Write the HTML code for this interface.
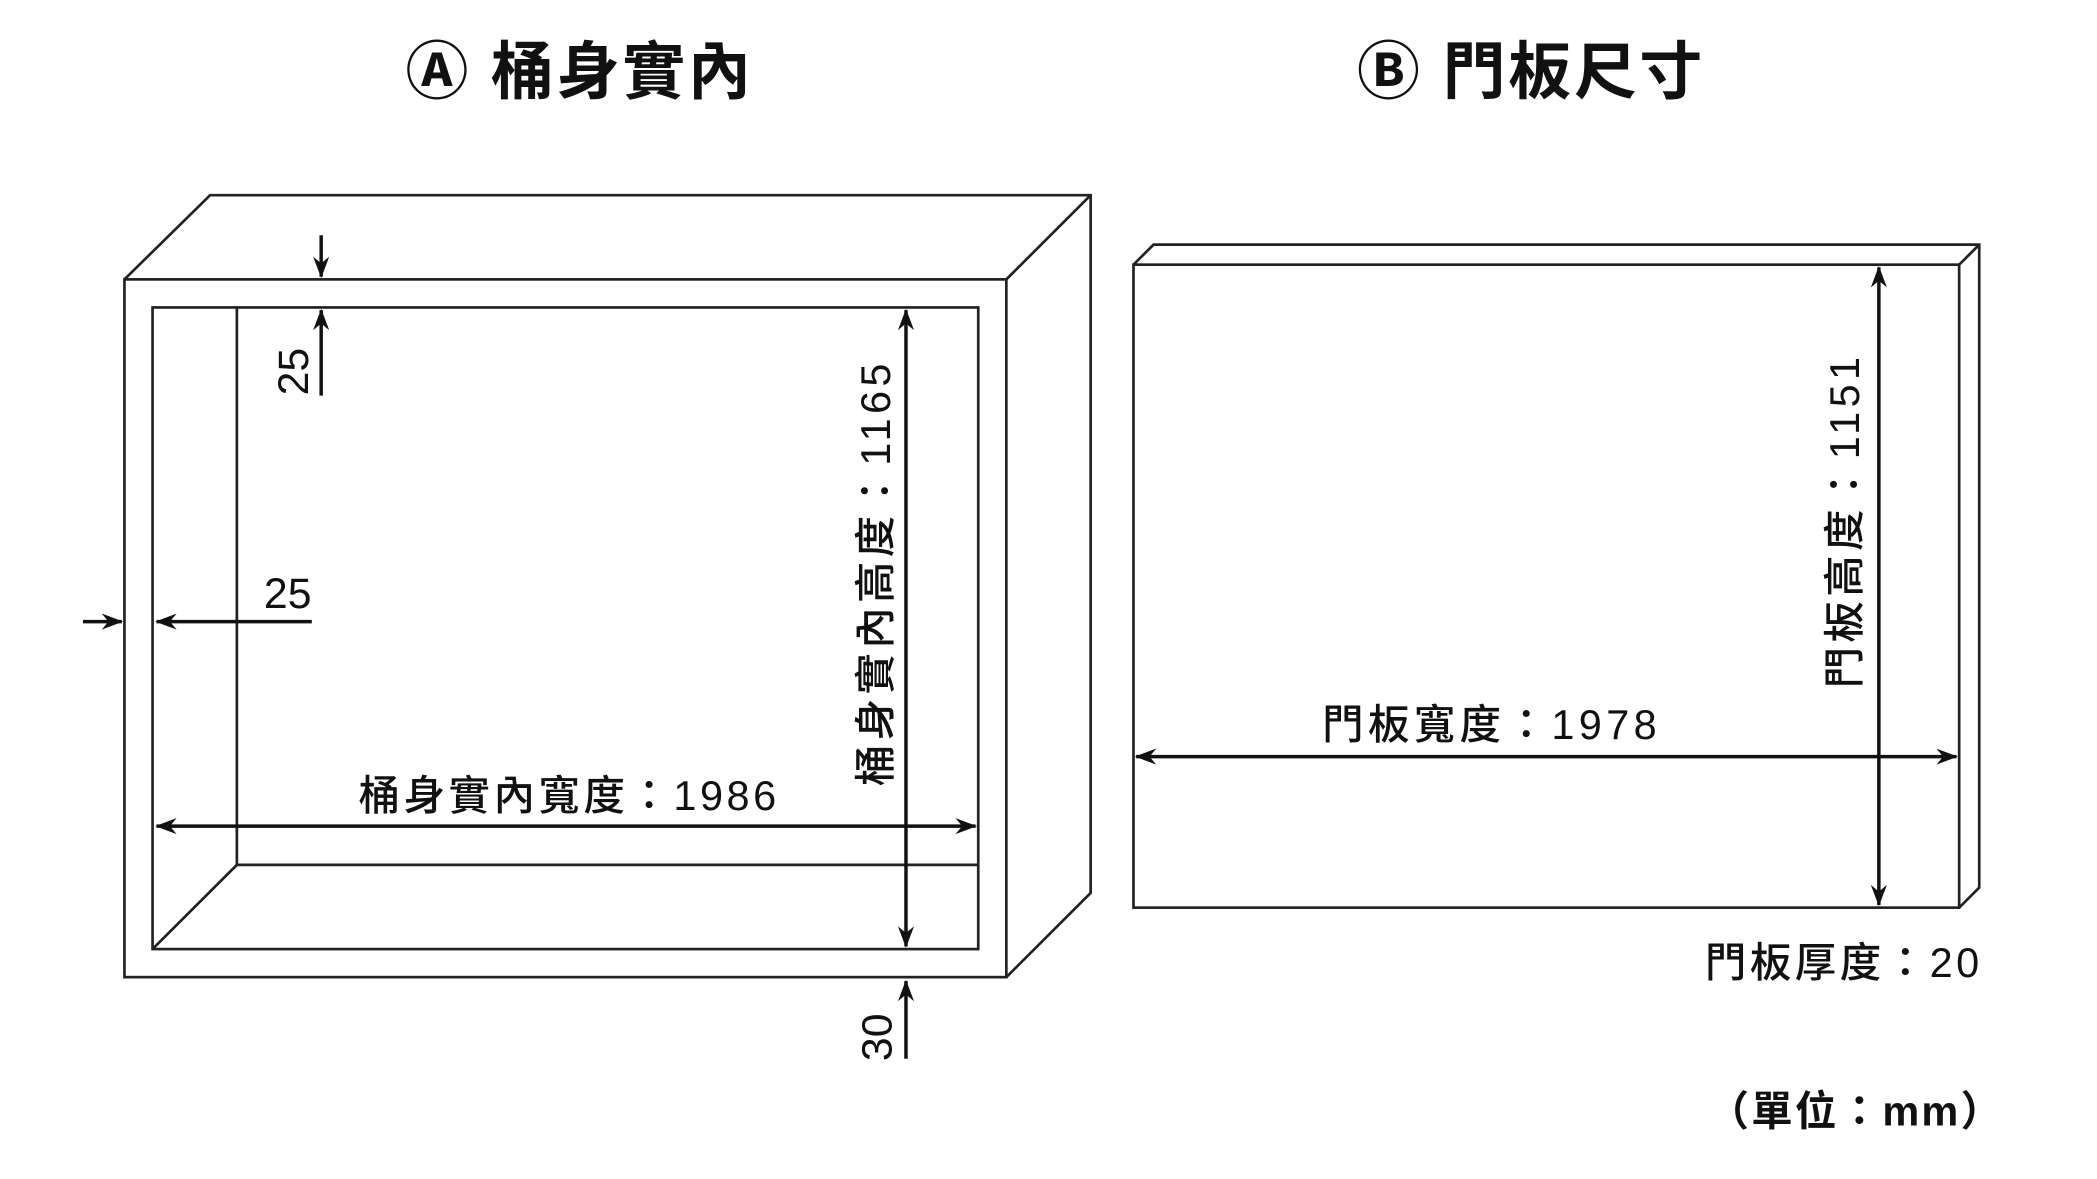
<!DOCTYPE html>
<html><head><meta charset="utf-8"><style>
html,body{margin:0;padding:0;background:#fff;}
svg{display:block;}
text{font-family:"Liberation Sans","Noto Sans CJK TC",sans-serif;fill:#111;}
</style></head><body>
<svg width="2097" height="1179" viewBox="0 0 1567 882" preserveAspectRatio="none" xmlns="http://www.w3.org/2000/svg">
<defs>
<marker id="a" viewBox="0 0 16 12" refX="15" refY="6" markerWidth="16" markerHeight="12" markerUnits="userSpaceOnUse" orient="auto-start-reverse">
<path d="M0,0 L16,6 L0,12 L5,6 Z" fill="#111"/></marker>
</defs>
<g stroke="#222" stroke-width="2" fill="none">
<rect x="93" y="209" width="659" height="522"/>
<polyline points="93,209 157,146 815,146 815,668 752,731"/>
<line x1="752" y1="209" x2="815" y2="146"/>
<rect x="114" y="230" width="617" height="480"/>
<polyline points="177,230 177,647 731,647"/>
<line x1="114" y1="710" x2="177" y2="647"/>
<rect x="847" y="198" width="617" height="481"/>
<polyline points="847,198 862,183 1479,183 1479,664 1464,679"/>
<line x1="1464" y1="198" x2="1479" y2="183"/>
</g>
<g stroke="#111" stroke-width="2.6" fill="none">
<line x1="240" y1="176" x2="240" y2="207" marker-end="url(#a)"/>
<line x1="240" y1="296" x2="240" y2="232" marker-end="url(#a)"/>
<line x1="62" y1="465" x2="91" y2="465" marker-end="url(#a)"/>
<line x1="233" y1="465" x2="117" y2="465" marker-end="url(#a)"/>
<line x1="117" y1="618" x2="729" y2="618" marker-start="url(#a)" marker-end="url(#a)"/>
<line x1="677" y1="232" x2="677" y2="708" marker-start="url(#a)" marker-end="url(#a)"/>
<line x1="677" y1="792" x2="677" y2="734" marker-end="url(#a)"/>
<line x1="1404" y1="200" x2="1404" y2="677" marker-start="url(#a)" marker-end="url(#a)"/>
<line x1="849" y1="566" x2="1462" y2="566" marker-start="url(#a)" marker-end="url(#a)"/>
</g>
<text x="432" y="70" font-size="47" font-weight="bold" text-anchor="middle" textLength="258">Ⓐ 桶身實內</text>
<text x="1143" y="70" font-size="47" font-weight="bold" text-anchor="middle" textLength="258">Ⓑ 門板尺寸</text>
<text x="215" y="455" font-size="32" text-anchor="middle" font-weight="500">25</text>
<text transform="translate(230,278) rotate(-90)" font-size="32" text-anchor="middle" font-weight="500">25</text>
<text transform="translate(666,776) rotate(-90)" font-size="32" text-anchor="middle" font-weight="500">30</text>
<text x="424" y="606" font-size="31" text-anchor="middle" textLength="312" font-weight="500">桶身實內寬度：1986</text>
<text transform="translate(665,430) rotate(-90)" font-size="31" text-anchor="middle" textLength="316" font-weight="500">桶身實內高度：1165</text>
<text x="1113" y="553" font-size="31" text-anchor="middle" textLength="250" font-weight="500">門板寬度：1978</text>
<text transform="translate(1389,391) rotate(-90)" font-size="31" text-anchor="middle" textLength="248" font-weight="500">門板高度：1151</text>
<text x="1479" y="731" font-size="31" text-anchor="end" textLength="205" font-weight="500">門板厚度：20</text>
<text x="1496" y="842" font-size="31" font-weight="bold" text-anchor="end" textLength="220">（單位：mm）</text>
</svg>
</body></html>
